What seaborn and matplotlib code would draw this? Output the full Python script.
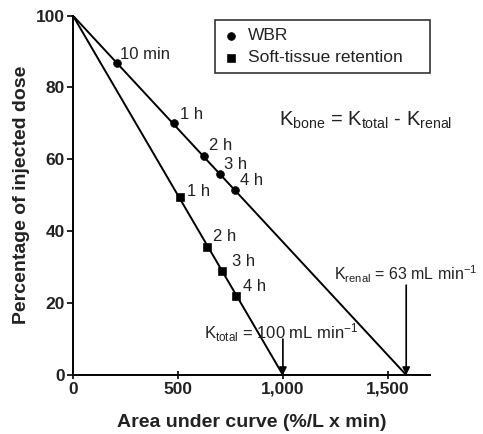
import matplotlib
matplotlib.use("Agg")
import matplotlib.pyplot as plt
import seaborn as sns
import pandas as pd

# Whole-body retention (WBR) samples: AUC (%/L x min) vs % of injected dose
wbr_times = ["10 min", "1 h", "2 h", "3 h", "4 h"]
wbr_auc = [210, 483, 626, 702, 774]
wbr_pct = [86.7, 70.0, 61.0, 56.0, 51.5]

# Soft-tissue retention samples
st_times = ["1 h", "2 h", "3 h", "4 h"]
st_auc = [511, 640, 712, 779]
st_pct = [49.4, 35.5, 29.0, 22.0]

# Clearance values (mL/min); x-intercept = 100 % / K
k_renal = 63
k_total = 100

x_ticks = [0, 500, 1000, 1500]
x_tick_labels = ["0", "500", "1,000", "1,500"]
y_ticks = [0, 20, 40, 60, 80, 100]

sns.set_theme(style="ticks")
plt.rcParams["font.family"] = ["Liberation Sans", "DejaVu Sans"]
plt.rcParams["mathtext.default"] = "regular"

TXT = "#222222"

fig = plt.figure(figsize=(4.83, 4.34), dpi=100)
ax = fig.add_axes([0.151, 0.136, 0.739, 0.828])

renal_int = 100 / k_renal * 1000
total_int = 100 / k_total * 1000

lines = pd.DataFrame({
    "x": [0, renal_int, 0, total_int],
    "y": [100, 0, 100, 0],
    "fit": ["renal", "renal", "total", "total"],
})
sns.lineplot(data=lines, x="x", y="y", units="fit", estimator=None,
             color="black", lw=1.4, ax=ax, legend=False)

wbr = pd.DataFrame({"x": wbr_auc, "y": wbr_pct, "t": wbr_times})
st = pd.DataFrame({"x": st_auc, "y": st_pct, "t": st_times})
sns.scatterplot(data=wbr, x="x", y="y", marker="o", s=32, color="black",
                edgecolor="black", ax=ax, label="WBR", zorder=5)
sns.scatterplot(data=st, x="x", y="y", marker="s", s=34, color="black",
                edgecolor="black", ax=ax, label="Soft-tissue retention", zorder=5)

wbr_offsets = [(3, 9), (6, 9), (5, 10), (4, 9), (5, 9)]
for xi, yi, t, off in zip(wbr_auc, wbr_pct, wbr_times, wbr_offsets):
    ax.annotate(t, (xi, yi), xytext=off, textcoords="offset pixels",
                ha="left", va="center", fontsize=12, color=TXT)
st_offsets = [(7, 6), (6, 11), (10, 9), (7, 9)]
for xi, yi, t, off in zip(st_auc, st_pct, st_times, st_offsets):
    ax.annotate(t, (xi, yi), xytext=off, textcoords="offset pixels",
                ha="left", va="center", fontsize=12, color=TXT)

ax.text(1395, 70.8, r"K$_{bone}$ = K$_{total}$ - K$_{renal}$",
        ha="center", va="center", fontsize=14.5, color=TXT)

ax.text(1245, 28, r"K$_{renal}$ = %d mL min$^{-1}$" % k_renal,
        ha="left", va="center", fontsize=11.5, color=TXT, clip_on=False)
ax.annotate("", xy=(renal_int, 0), xytext=(renal_int, 25),
            arrowprops=dict(arrowstyle="-|>", color="black", lw=1.2,
                            mutation_scale=11, shrinkA=0, shrinkB=0))

ax.text(994, 11.7, r"K$_{total}$ = %d mL min$^{-1}$" % k_total,
        ha="center", va="center", fontsize=12, color=TXT)
ax.annotate("", xy=(total_int, 0), xytext=(total_int, 10),
            arrowprops=dict(arrowstyle="-|>", color="black", lw=1.2,
                            mutation_scale=11, shrinkA=0, shrinkB=0))

ax.set_xlim(0, 1700)
ax.set_ylim(0, 100)
ax.set_xticks(x_ticks)
ax.set_xticklabels(x_tick_labels)
ax.set_yticks(y_ticks)
ax.tick_params(axis="both", labelsize=12.5, width=1.2, color="black",
               labelcolor=TXT)
ax.tick_params(axis="y", length=4, pad=2)
ax.tick_params(axis="x", direction="inout", length=6, pad=2)
for lab in ax.get_xticklabels() + ax.get_yticklabels():
    lab.set_fontweight("bold")
sns.despine(ax=ax)
for sp in ("left", "bottom"):
    ax.spines[sp].set_linewidth(1.4)
    ax.spines[sp].set_color("black")

ax.set_xlabel("Area under curve (%/L x min)", fontsize=14, fontweight="bold",
              color=TXT, labelpad=12)
ax.set_ylabel("Percentage of injected dose", fontsize=14, fontweight="bold",
              color=TXT, labelpad=4)

leg = ax.legend(loc="upper left", bbox_to_anchor=(0.398, 0.989, 0.602, 0.0),
                mode="expand", borderaxespad=0, fontsize=12.5, frameon=True,
                fancybox=False, edgecolor="black", handletextpad=0.5,
                borderpad=0.48, handlelength=0.9, labelspacing=0.4,
                markerscale=1.0)
leg.get_frame().set_linewidth(1.2)
for txt in leg.get_texts():
    txt.set_color(TXT)

fig.savefig("out.png", dpi=100)
